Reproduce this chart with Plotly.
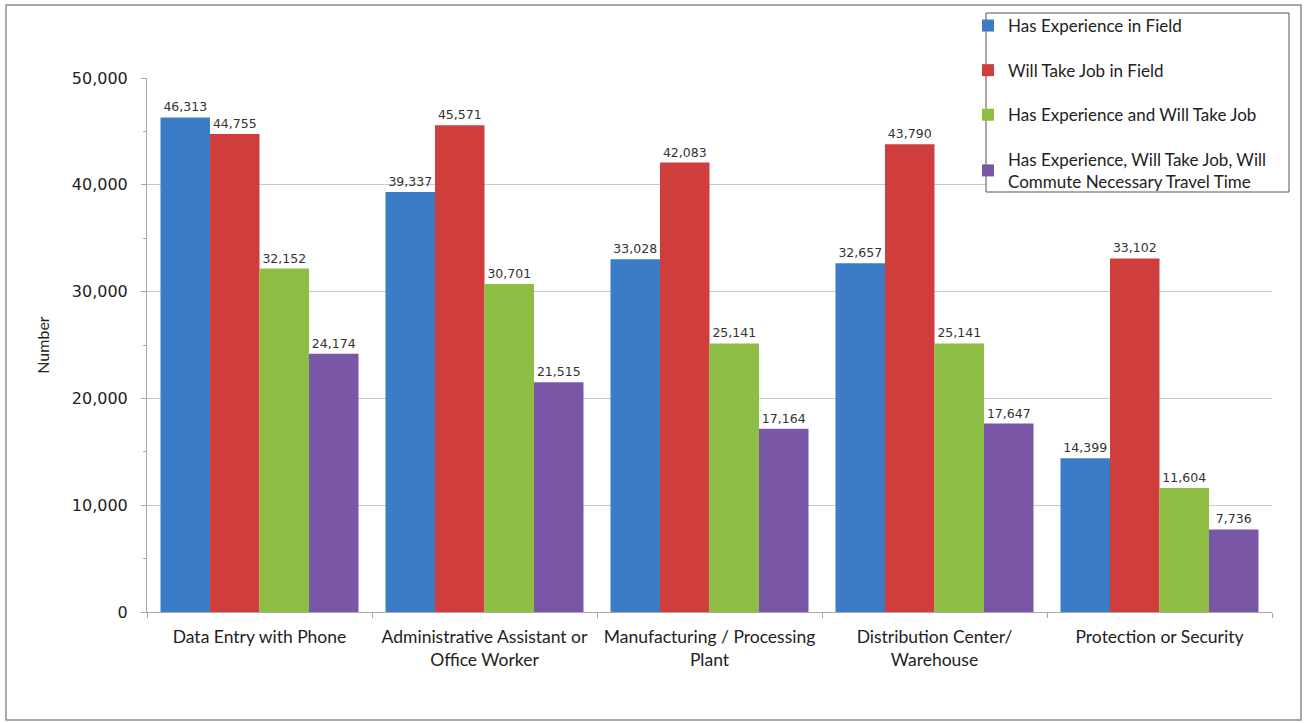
import plotly.graph_objects as go

categories = [
    "Data Entry with Phone",
    "Administrative Assistant or<br>Office Worker",
    "Manufacturing / Processing<br>Plant",
    "Distribution Center/<br>Warehouse",
    "Protection or Security",
]
series_names = [
    "Has Experience in Field",
    "Will Take Job in Field",
    "Has Experience and Will Take Job",
    "Has Experience, Will Take Job, Will<br>Commute Necessary Travel Time",
]
has_experience = [46313, 39337, 33028, 32657, 14399]
will_take_job = [44755, 45571, 42083, 43790, 33102]
exp_and_take = [32152, 30701, 25141, 25141, 11604]
exp_take_commute = [24174, 21515, 17164, 17647, 7736]
y_ticks = [0, 10000, 20000, 30000, 40000, 50000]

series_values = [has_experience, will_take_job, exp_and_take, exp_take_commute]
colors = ["#3c7bc6", "#cf3e3c", "#8dbe43", "#7a57a6"]

W, H = 1304, 723
L, R, T, B = 147, 32, 78, 111
pw, ph = W - L - R, H - T - B

def px_x(x):
    return (x - L) / pw

def px_y(y):
    return (H - B - y) / ph

fig = go.Figure()
for i, (name, vals, col) in enumerate(zip(series_names, series_values, colors)):
    fig.add_trace(go.Bar(
        x=categories, y=vals, name=name,
        marker=dict(color=col, line=dict(width=0)),
        text=[f"{v:,}" for v in vals],
        textposition="outside",
        textfont=dict(family="DejaVu Sans", size=12.5, color="#333333"),
        cliponaxis=False,
        legendgroup=f"g{i}",
    ))

shapes = [
    # outer chart border
    dict(type="rect", xref="paper", yref="paper",
         x0=px_x(6), x1=px_x(1301), y0=px_y(720), y1=px_y(5),
         line=dict(color="#8c8c8c", width=1.5), fillcolor="rgba(0,0,0,0)", layer="below"),
    # legend box
    dict(type="rect", xref="paper", yref="paper",
         x0=px_x(986), x1=px_x(1289), y0=px_y(192), y1=px_y(13),
         line=dict(color="#555555", width=1), fillcolor="white", layer="above"),
]

fig.update_layout(
    width=W, height=H,
    margin=dict(l=L, r=R, t=T, b=B, autoexpand=False),
    paper_bgcolor="white", plot_bgcolor="white",
    barmode="group", bargap=0.12, bargroupgap=0,
    font=dict(family="Lato", size=17, color="#222222"),
    showlegend=True,
    legend=dict(
        x=px_x(968), xanchor="left", y=px_y(8), yanchor="top",
        bgcolor="rgba(0,0,0,0)", borderwidth=0,
        traceorder="grouped", tracegroupgap=19.5,
        font=dict(family="Lato", size=17, color="#222222"),
        itemclick=False,
    ),
    shapes=shapes,
    xaxis=dict(
        showline=True, linecolor="#a6a6a6", linewidth=1,
        ticks="outside", tickson="boundaries", ticklen=5, tickcolor="#a6a6a6",
        tickfont=dict(family="Lato", size=17.5, color="#222222"),
        ticklabelstandoff=9,
        showgrid=False,
    ),
    yaxis=dict(
        range=[0, 50000], tickvals=y_ticks, tickformat=",",
        showline=True, linecolor="#a6a6a6", linewidth=1,
        ticks="outside", ticklen=5, tickcolor="#a6a6a6",
        minor=dict(dtick=5000, ticks="outside", ticklen=3, tickcolor="#a6a6a6", showgrid=False),
        showgrid=True, gridcolor="#c8c8c8", gridwidth=1,
        zeroline=False,
        tickfont=dict(family="DejaVu Sans", size=16, color="#222222"),
        ticklabelstandoff=10,
        title=dict(text="Number", font=dict(family="Lato", size=16, color="#222222"), standoff=18),
    ),
)

fig.write_html("out.html")
